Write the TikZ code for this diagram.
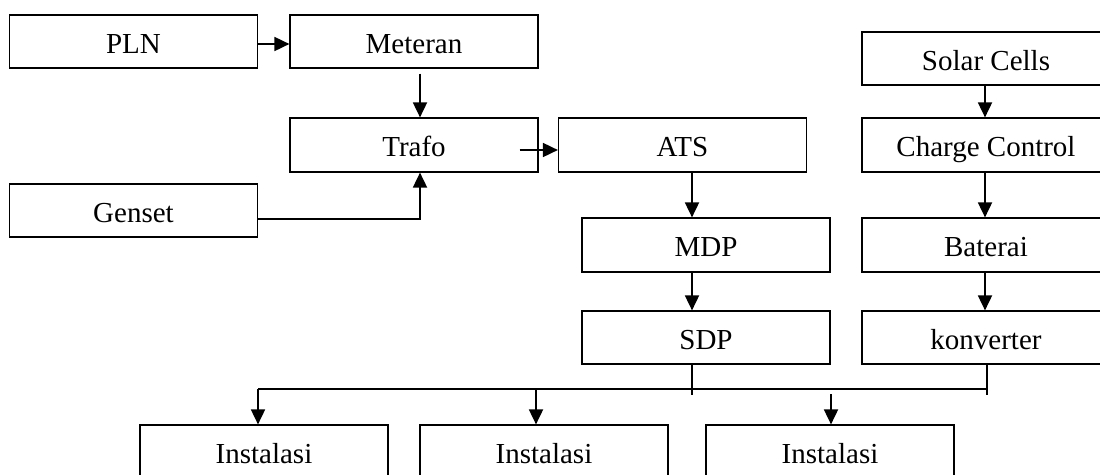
\documentclass[tikz,border=0pt]{standalone}
\usepackage{fontspec}
\setmainfont{Liberation Serif}
\usetikzlibrary{arrows.meta}
\begin{document}
\begin{tikzpicture}[x=1pt,y=-1pt,
  box/.style={draw=black,line width=1.2pt,rectangle,minimum width=248pt,minimum height=53pt,
    inner sep=0pt,text height=23pt,text depth=0pt,font=\fontsize{29}{34}\selectfont},
  arr/.style={line width=1.8pt,-{Triangle[length=15pt,width=14pt]}},
  ln/.style={line width=1.3pt}]
\fill[white] (0,0) rectangle (1100,474);
\useasboundingbox (0,0) rectangle (1100,474);
\node[box] (pln) at (133.5,41.5) {PLN};
\node[box] (met) at (414,41.5) {Meteran};
\node[box,minimum height=54pt] (trafo) at (414,145) {Trafo};
\node[box,minimum height=54pt] (ats) at (682.5,145) {ATS};
\node[box] (gen) at (133.5,210.5) {Genset};
\node[box] (solar) at (986,58.5) {Solar Cells};
\node[box,minimum height=54pt] (cc) at (986,145) {Charge Control};
\node[box,minimum height=54pt] (mdp) at (706,245) {MDP};
\node[box,minimum height=54pt] (bat) at (986,245) {Baterai};
\node[box] (sdp) at (706,337.5) {SDP};
\node[box] (konv) at (986,337.5) {konverter};
\node[box] (i1) at (264,451.5) {Instalasi};
\node[box] (i2) at (544,451.5) {Instalasi};
\node[box] (i3) at (830,451.5) {Instalasi};
% top left connections
\draw[arr] ([yshift=-2.5pt]pln.east) -- ([yshift=-2.5pt]met.west);
\draw[arr,shorten <=5pt] ([xshift=6pt]met.south) -- ([xshift=6pt]trafo.north);
\draw[arr] ([xshift=-19pt,yshift=-5pt]trafo.east) -- ([yshift=-5pt]ats.west);
\draw[arr] ([yshift=-8.5pt]gen.east) -| ([xshift=6pt]trafo.south);
% right column
\draw[arr] ([xshift=-1pt]solar.south) -- ([xshift=-1pt]cc.north);
\draw[arr] ([xshift=-1pt]cc.south) -- ([xshift=-1pt]bat.north);
\draw[arr] ([xshift=-1pt]bat.south) -- ([xshift=-1pt]konv.north);
% middle column
\draw[arr] ([xshift=9.5pt]ats.south) -- ([xshift=-14pt]mdp.north);
\draw[arr] ([xshift=-14pt]mdp.south) -- ([xshift=-14pt]sdp.north);
% bus
\coordinate (b1) at (258,389);
\coordinate (b2) at (536,389);
\coordinate (b3) at (831,394);
\coordinate (bR) at (987,389);
\draw[ln] ([xshift=-14pt]sdp.south) -- ++(0,30);
\draw[ln] ([xshift=1pt]konv.south) -- ++(0,30);
\draw[ln] (b1) -- (bR);
\draw[arr] (b1) -- (b1 |- i1.north);
\draw[arr] (b2) -- (b2 |- i2.north);
\draw[arr] (b3) -- (b3 |- i3.north);
\end{tikzpicture}
\end{document}
